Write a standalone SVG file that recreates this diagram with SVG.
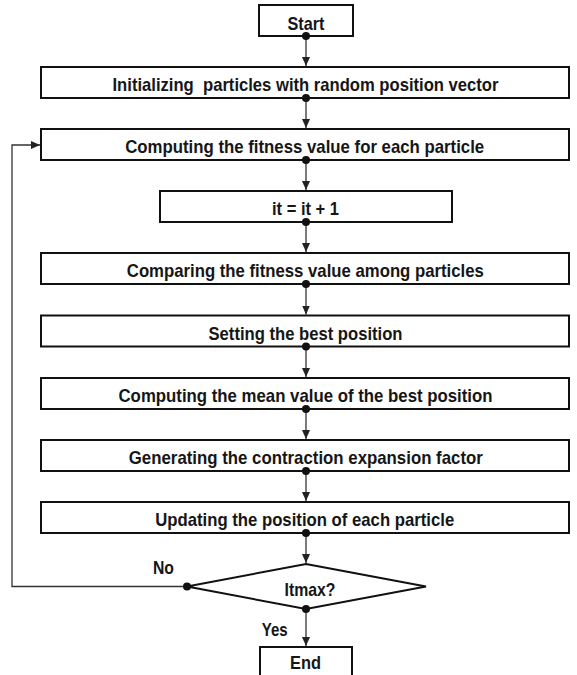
<svg xmlns="http://www.w3.org/2000/svg" width="577" height="675" viewBox="0 0 577 675">
<defs>
<style>
.box{fill:#fff;stroke:#111;stroke-width:2}
.t{font-family:"Liberation Sans",Arial,sans-serif;font-weight:bold;font-size:18.5px;fill:#161616;text-anchor:middle}
.c{fill:none;stroke:#333;stroke-width:1.3}
.dot{fill:#111}
</style>
<marker id="ah" markerUnits="userSpaceOnUse" markerWidth="9" markerHeight="8" refX="9" refY="4" orient="auto">
<path d="M0,0 L9,4 L0,8 z" fill="#222"/>
</marker>
</defs>
<rect width="577" height="675" fill="#fff"/>
<g id="connectors">
<line class="c" x1="306" y1="36" x2="306" y2="66" marker-end="url(#ah)"/>
<line class="c" x1="306" y1="98" x2="306" y2="128" marker-end="url(#ah)"/>
<line class="c" x1="306" y1="160" x2="306" y2="190" marker-end="url(#ah)"/>
<line class="c" x1="306" y1="222" x2="306" y2="252" marker-end="url(#ah)"/>
<line class="c" x1="306" y1="284" x2="306" y2="314.5" marker-end="url(#ah)"/>
<line class="c" x1="306" y1="346.5" x2="306" y2="377" marker-end="url(#ah)"/>
<line class="c" x1="306" y1="409" x2="306" y2="439" marker-end="url(#ah)"/>
<line class="c" x1="306" y1="471" x2="306" y2="501" marker-end="url(#ah)"/>
<line class="c" x1="306" y1="533" x2="306" y2="563" marker-end="url(#ah)"/>
<line class="c" x1="306" y1="609" x2="306" y2="646" marker-end="url(#ah)"/>
<polyline class="c" points="187,586.5 12,586.5 12,145 40,145" marker-end="url(#ah)"/>
</g>
<g id="start"><rect class="box" x="259" y="5" width="94" height="31"/><text class="t" x="306" y="29.5" textLength="37" lengthAdjust="spacingAndGlyphs">Start</text></g>
<g id="init"><rect class="box" x="41" y="67" width="528" height="31"/><text class="t" x="305.5" y="91" textLength="386" lengthAdjust="spacingAndGlyphs" xml:space="preserve">Initializing  particles with random position vector</text></g>
<g id="fitness"><rect class="box" x="41" y="129" width="528" height="31"/><text class="t" x="304.7" y="153" textLength="359" lengthAdjust="spacingAndGlyphs">Computing the fitness value for each particle</text></g>
<g id="iter"><rect class="box" x="160" y="191" width="292" height="31"/><text class="t" x="305.5" y="215" textLength="67" lengthAdjust="spacingAndGlyphs">it = it + 1</text></g>
<g id="compare"><rect class="box" x="41" y="253" width="528" height="31"/><text class="t" x="305.3" y="277" textLength="357" lengthAdjust="spacingAndGlyphs">Comparing the fitness value among particles</text></g>
<g id="best"><rect class="box" x="41" y="315.5" width="528" height="31"/><text class="t" x="305.5" y="339.5" textLength="194" lengthAdjust="spacingAndGlyphs">Setting the best position</text></g>
<g id="mean"><rect class="box" x="41" y="378" width="528" height="31"/><text class="t" x="305.5" y="402" textLength="374" lengthAdjust="spacingAndGlyphs">Computing the mean value of the best position</text></g>
<g id="factor"><rect class="box" x="41" y="440" width="528" height="31"/><text class="t" x="305.8" y="464" textLength="354" lengthAdjust="spacingAndGlyphs">Generating the contraction expansion factor</text></g>
<g id="update"><rect class="box" x="41" y="502" width="528" height="31"/><text class="t" x="304.7" y="526" textLength="299" lengthAdjust="spacingAndGlyphs">Updating the position of each particle</text></g>
<g id="decision"><polygon class="box" points="306,564 426,586.5 306,609 187,586.5"/><text class="t" x="310" y="596" textLength="51" lengthAdjust="spacingAndGlyphs">Itmax?</text></g>
<g id="end"><rect class="box" x="260" y="647" width="92" height="32"/><text class="t" x="305.5" y="668.5" textLength="31" lengthAdjust="spacingAndGlyphs">End</text></g>
<g id="labels">
<text class="t" x="163.5" y="574" textLength="21" lengthAdjust="spacingAndGlyphs">No</text>
<text class="t" x="274.7" y="636" textLength="26" lengthAdjust="spacingAndGlyphs">Yes</text>
</g>
<g id="dots">
<circle class="dot" cx="306" cy="36" r="4"/>
<circle class="dot" cx="306" cy="98" r="4"/>
<circle class="dot" cx="306" cy="160" r="4"/>
<circle class="dot" cx="306" cy="222" r="4"/>
<circle class="dot" cx="306" cy="284" r="4"/>
<circle class="dot" cx="306" cy="346.5" r="4"/>
<circle class="dot" cx="306" cy="409" r="4"/>
<circle class="dot" cx="306" cy="471" r="4"/>
<circle class="dot" cx="306" cy="533" r="4"/>
<circle class="dot" cx="306" cy="609" r="4"/>
<circle class="dot" cx="187" cy="586.5" r="4"/>
</g>
</svg>
